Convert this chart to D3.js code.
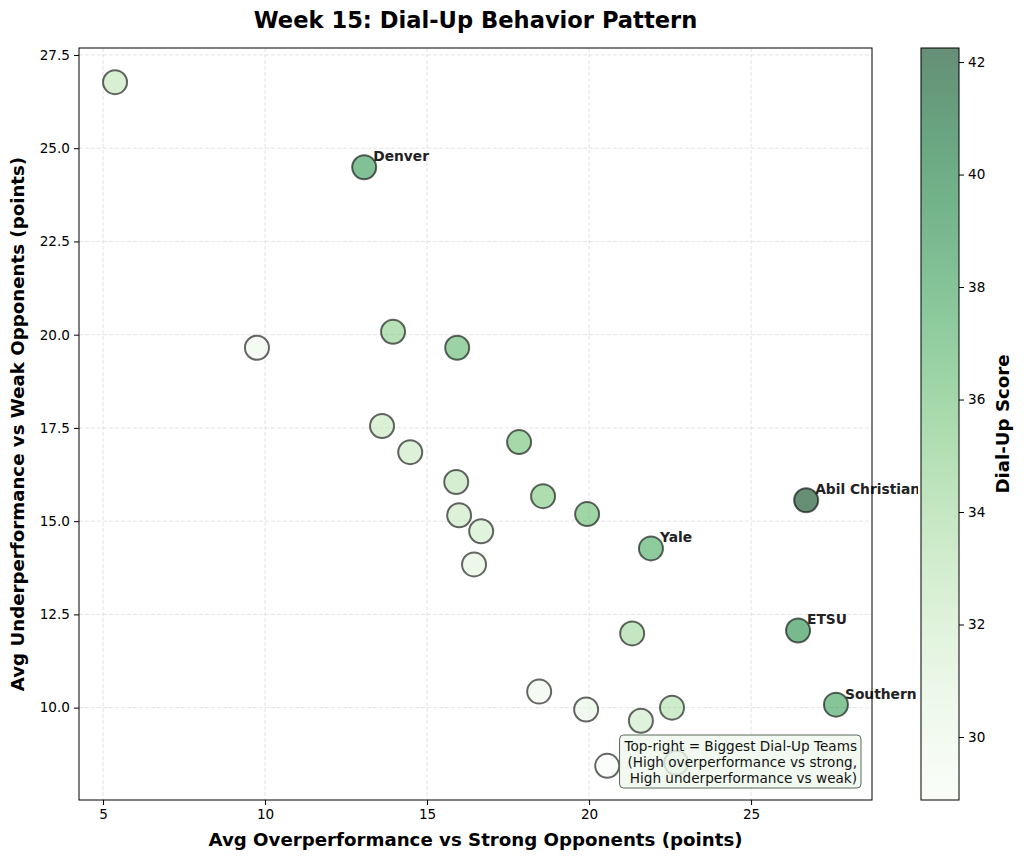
<!DOCTYPE html>
<html>
<head>
<meta charset="utf-8">
<script src="https://d3js.org/d3.v7.min.js"></script>
<style>
  body { margin: 0; background: #fff; }
  text { font-family: "DejaVu Sans", sans-serif; }
</style>
</head>
<body>
<div id="chart"></div>
<script>

// avg overperformance vs strong opponents (x)
var overStrong = [5.37, 13.06, 9.75, 13.95, 15.93, 13.61, 14.48, 17.84, 15.90, 18.58,
                  15.99, 19.94, 16.67, 26.70, 21.91, 16.45, 21.33, 26.45, 18.46, 19.91,
                  21.60, 22.56, 27.62, 20.56, 22.69];
// avg underperformance vs weak opponents (y)
var underWeak = [26.77, 24.49, 19.65, 20.08, 19.65, 17.55, 16.85, 17.12, 16.05, 15.67,
                 15.16, 15.19, 14.73, 15.56, 14.27, 13.84, 11.99, 12.07, 10.43, 9.95,
                 9.65, 10.00, 10.08, 8.44, 8.52];
// dial-up score (colour)
var dialUp = [32.6, 38.3, 29.6, 34.8, 36.5, 32.4, 32.3, 35.9, 32.8, 35.4,
              32.3, 36.2, 31.9, 42.25, 37.3, 30.7, 34.0, 39.0, 29.6, 30.3,
              32.0, 33.3, 37.9, 28.88, 31.8];
// team names that get a label ("" = no label)
var teamLabel = ["", "Denver", "", "", "", "", "", "", "", "",
                 "", "", "", "Abil Christian", "Yale", "", "", "ETSU", "", "",
                 "", "", "Southern Utah", "", ""];

var xTicks = [5, 10, 15, 20, 25];
var yTicks = [10.0, 12.5, 15.0, 17.5, 20.0, 22.5, 25.0, 27.5];
var cTicks = [30, 32, 34, 36, 38, 40, 42];

var W = 1024, H = 861;
var plot = {left: 79, right: 872, top: 48, bottom: 800};
var cbar = {left: 921, right: 959};
var alpha = 0.6;

var data = overStrong.map(function(d, i) {
  return {x: d, y: underWeak[i], score: dialUp[i], label: teamLabel[i]};
});

var svg = d3.select("#chart").append("svg")
  .attr("width", W).attr("height", H);

// matplotlib style 5% margins
function padded(vals) {
  var e = d3.extent(vals), r = e[1] - e[0];
  return [e[0] - 0.05 * r, e[1] + 0.05 * r];
}

var x = d3.scaleLinear().domain(padded(overStrong)).range([plot.left, plot.right]);
var y = d3.scaleLinear().domain(padded(underWeak)).range([plot.bottom, plot.top]);
var cExt = d3.extent(dialUp);
var color = d3.scaleSequential(d3.interpolateGreens).domain(cExt);

// grid
var grid = svg.append("g");
grid.selectAll(".gx").data(xTicks).enter().append("line")
  .attr("x1", function(d) { return x(d); }).attr("x2", function(d) { return x(d); })
  .attr("y1", plot.top).attr("y2", plot.bottom);
grid.selectAll(".gy").data(yTicks).enter().append("line")
  .attr("y1", function(d) { return y(d); }).attr("y2", function(d) { return y(d); })
  .attr("x1", plot.left).attr("x2", plot.right);
grid.selectAll("line")
  .attr("stroke", "#b0b0b0").attr("stroke-opacity", 0.35)
  .attr("stroke-width", 1).attr("stroke-dasharray", "4,2");

// points
svg.append("g").selectAll("circle").data(data).enter().append("circle")
  .attr("cx", function(d) { return x(d.x); })
  .attr("cy", function(d) { return y(d.y); })
  .attr("r", 12)
  .attr("fill", function(d) { return color(d.score); })
  .attr("fill-opacity", alpha)
  .attr("stroke", "#000").attr("stroke-opacity", alpha)
  .attr("stroke-width", 2);

// labels
svg.append("g").selectAll("text").data(data.filter(function(d) { return d.label; }))
  .enter().append("text")
  .attr("x", function(d) { return x(d.x) + 9; })
  .attr("y", function(d) { return y(d.y) - 6; })
  .attr("font-size", "13.8px").attr("font-weight", "bold").attr("fill", "#222")
  .text(function(d) { return d.label; });

// info box
var boxLines = ["Top-right = Biggest Dial-Up Teams",
                "(High overperformance vs strong,",
                " High underperformance vs weak)"];
var boxG = svg.append("g");
var boxRect = boxG.append("rect");
var boxText = boxG.append("text")
  .attr("font-size", "13.6px").attr("fill", "#111").attr("text-anchor", "end")
  .style("white-space", "pre");
boxLines.forEach(function(t, i) {
  boxText.append("tspan").attr("x", 857).attr("y", 751 + i * 16).text(t);
});
var bb = boxText.node().getBBox();
boxRect.attr("x", bb.x - 4).attr("y", bb.y - 3)
  .attr("width", bb.width + 8).attr("height", bb.height + 5)
  .attr("rx", 4)
  .attr("fill", "#eef7ec").attr("fill-opacity", 0.8)
  .attr("stroke", "#5a6b5a").attr("stroke-width", 1);

// axes
svg.append("g")
  .attr("transform", "translate(0," + plot.bottom + ")")
  .call(d3.axisBottom(x).tickValues(xTicks).tickSize(5).tickPadding(4).tickFormat(d3.format("d")))
  .call(function(g) { g.select(".domain").remove(); });
svg.append("g")
  .attr("transform", "translate(" + plot.left + ",0)")
  .call(d3.axisLeft(y).tickValues(yTicks).tickSize(5).tickPadding(4).tickFormat(d3.format(".1f")))
  .call(function(g) { g.select(".domain").remove(); });
svg.selectAll(".tick text").attr("font-size", "13.6px").attr("fill", "#000")
  .attr("font-family", "DejaVu Sans");

svg.append("rect")
  .attr("x", plot.left).attr("y", plot.top)
  .attr("width", plot.right - plot.left).attr("height", plot.bottom - plot.top)
  .attr("fill", "none").attr("stroke", "#000").attr("stroke-width", 1);

// colorbar
var cy = d3.scaleLinear().domain(cExt).range([plot.bottom, plot.top]);
var grad = svg.append("defs").append("linearGradient")
  .attr("id", "cgrad").attr("x1", 0).attr("y1", 1).attr("x2", 0).attr("y2", 0);
d3.range(0, 1.0001, 0.05).forEach(function(t) {
  grad.append("stop").attr("offset", t)
    .attr("stop-color", d3.interpolateGreens(t)).attr("stop-opacity", alpha);
});
svg.append("rect")
  .attr("x", cbar.left - 3).attr("y", plot.top - 2)
  .attr("width", cbar.right - cbar.left + 6).attr("height", plot.bottom - plot.top + 4)
  .attr("fill", "#fff");
svg.append("rect")
  .attr("x", cbar.left).attr("y", plot.top)
  .attr("width", cbar.right - cbar.left).attr("height", plot.bottom - plot.top)
  .attr("fill", "url(#cgrad)").attr("stroke", "#000").attr("stroke-width", 1);
svg.append("g")
  .attr("transform", "translate(" + cbar.right + ",0)")
  .call(d3.axisRight(cy).tickValues(cTicks).tickSize(5).tickPadding(4))
  .call(function(g) { g.select(".domain").remove(); })
  .selectAll("text").attr("font-size", "13.6px").attr("fill", "#000")
  .attr("font-family", "DejaVu Sans");

// titles
svg.append("text")
  .attr("x", (plot.left + plot.right) / 2).attr("y", 28)
  .attr("text-anchor", "middle").attr("font-size", "22.6px").attr("font-weight", "bold")
  .text("Week 15: Dial-Up Behavior Pattern");
svg.append("text")
  .attr("x", (plot.left + plot.right) / 2).attr("y", 846)
  .attr("text-anchor", "middle").attr("font-size", "18.2px").attr("font-weight", "bold")
  .text("Avg Overperformance vs Strong Opponents (points)");
svg.append("text")
  .attr("transform", "translate(24," + (plot.top + plot.bottom) / 2 + ") rotate(-90)")
  .attr("text-anchor", "middle").attr("font-size", "18.2px").attr("font-weight", "bold")
  .text("Avg Underperformance vs Weak Opponents (points)");
svg.append("text")
  .attr("transform", "translate(1009," + (plot.top + plot.bottom) / 2 + ") rotate(-90)")
  .attr("text-anchor", "middle").attr("font-size", "18.2px").attr("font-weight", "bold")
  .text("Dial-Up Score");

</script>
</body>
</html>
